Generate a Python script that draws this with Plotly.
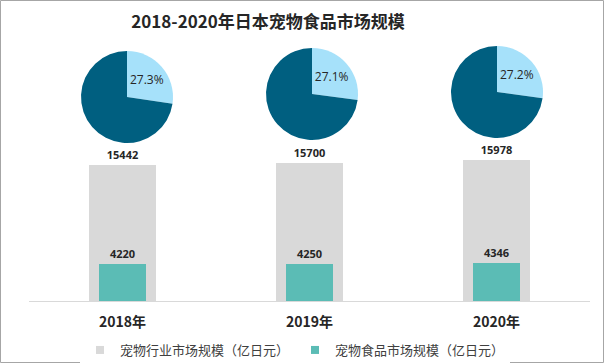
import plotly.graph_objects as go

years = ["2018年", "2019年", "2020年"]
industry = [15442, 15700, 15978]
food = [4220, 4250, 4346]
series_names = ["宠物行业市场规模（亿日元）", "宠物食品市场规模（亿日元）"]
title_text = "2018-2020年日本宠物食品市场规模"

W, H = 605, 364
ML, MR, MT, MB = 29, 15, 40, 63
PW, PH = W - ML - MR, H - MT - MB
GRAY, TEAL = "#D9D9D9", "#5BBCB5"

fig = go.Figure()
fig.add_trace(go.Bar(
    x=years, y=industry, name=series_names[0], width=0.36,
    marker=dict(color=GRAY, line=dict(width=0)),
    text=[f"<b>{v}</b>" for v in industry], textposition="outside",
    textfont=dict(size=11, color="#262626", family="Open Sans"),
    cliponaxis=False, showlegend=False,
))
fig.add_trace(go.Bar(
    x=years, y=food, name=series_names[1], width=0.25,
    marker=dict(color=TEAL, line=dict(width=0)),
    text=[f"<b>{v}</b>" for v in food], textposition="outside",
    textfont=dict(size=11, color="#262626", family="Open Sans"),
    cliponaxis=False, showlegend=False,
))
# legend entries (small square markers)
for nm, col in zip(series_names, [GRAY, TEAL]):
    fig.add_trace(go.Scatter(
        x=[None], y=[None], mode="markers", name=nm,
        marker=dict(symbol="square", size=8, color=col),
    ))

# pies: share of food in industry
pie_centers = [127, 312, 497]
pie_cy = [97, 94, 92]
R = 46
for i in range(3):
    cx, cy = pie_centers[i], pie_cy[i]
    x0 = (cx - R - ML) / PW
    x1 = (cx + R - ML) / PW
    y0 = (H - MB - (cy + R)) / PH
    y1 = (H - MB - (cy - R)) / PH
    fig.add_trace(go.Pie(
        values=[food[i], industry[i] - food[i]],
        labels=["食品", "其他"],
        domain=dict(x=[x0, x1], y=[y0, y1]),
        sort=False, direction="clockwise", rotation=0,
        marker=dict(colors=["#A6E1FA", "#005F80"], line=dict(width=0)),
        texttemplate=["%{percent:.1%}", ""],
        textposition="inside", insidetextorientation="horizontal",
        textfont=dict(size=12, color="#262626", family="Open Sans"),
        showlegend=False, hoverinfo="skip",
    ))

fig.update_layout(
    width=W, height=H,
    margin=dict(l=ML, r=MR, t=MT, b=MB, autoexpand=False),
    paper_bgcolor="white", plot_bgcolor="white",
    barmode="overlay", bargap=0,
    title=dict(text="<b>" + title_text + "</b>", x=268 / W, xanchor="center",
               y=1 - 22 / H, yanchor="middle",
               font=dict(size=17, color="#262626", family="Noto Sans CJK SC")),
    xaxis=dict(showgrid=False, showline=True, linecolor="#D9D9D9", linewidth=1,
               ticks="", ticklabelstandoff=8,
               tickfont=dict(size=14, color="#262626", family="Noto Sans CJK SC"),
               tickprefix="<b>", ticksuffix="</b>", fixedrange=True),
    yaxis=dict(range=[0, 15442 * PH / 136], visible=False, fixedrange=True),
    legend=dict(orientation="h", x=80 / W, xanchor="left", xref="container",
                y=-(350 - (H - MB)) / PH,
                yanchor="middle", font=dict(size=13, color="#404040", family="Noto Sans CJK SC"),
                traceorder="normal", itemwidth=30, entrywidth=170),
    shapes=[dict(type="rect", xref="paper", yref="paper",
                 x0=-(ML - 0.5) / PW, x1=1 + (MR - 1.5) / PW,
                 y0=-(MB - 1.5) / PH, y1=1 + (MT - 0.5) / PH,
                 line=dict(color="#A6A6A6", width=1), layer="above")],
)

fig.write_html("out.html", config={"displayModeBar": False},
               post_script="document.body.style.margin='0';document.body.style.overflow='hidden';")
